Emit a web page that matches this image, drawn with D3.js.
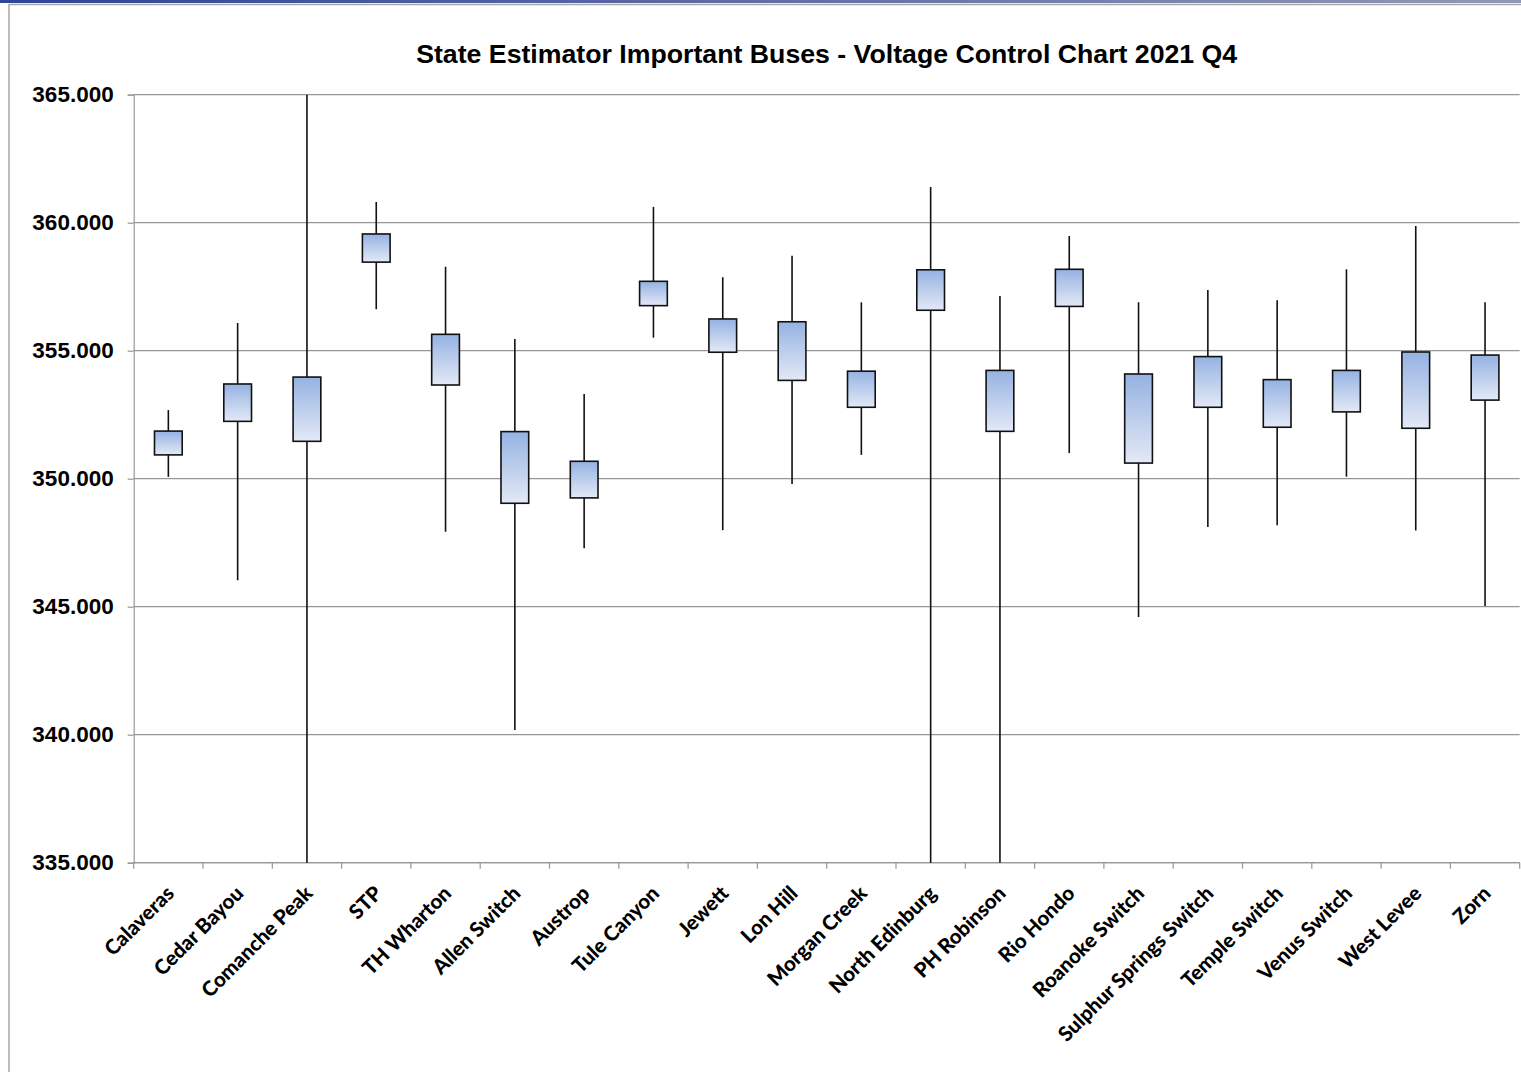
<!DOCTYPE html>
<html>
<head>
<meta charset="utf-8">
<script src="https://cdn.jsdelivr.net/npm/d3@7"></script>
<style>
  body { margin: 0; background: #fff; }
  svg { display: block; }
</style>
</head>
<body>
<div id="chart"></div>
<script>
// voltage stats per bus (kV): max, min, box top, box bottom
const buses = ["Calaveras", "Cedar Bayou", "Comanche Peak", "STP", "TH Wharton", "Allen Switch",
  "Austrop", "Tule Canyon", "Jewett", "Lon Hill", "Morgan Creek", "North Edinburg", "PH Robinson",
  "Rio Hondo", "Roanoke Switch", "Sulphur Springs Switch", "Temple Switch", "Venus Switch",
  "West Levee", "Zorn"];
const highs = [352.68, 356.08, 365.00, 360.81, 358.28, 355.46, 353.31, 360.62, 357.87, 358.71,
  356.89, 361.39, 357.14, 359.48, 356.89, 357.37, 356.97, 358.18, 359.87, 356.89];
const lows = [350.07, 346.03, 335.00, 356.62, 347.93, 340.18, 347.28, 355.51, 347.99, 349.79,
  350.93, 335.00, 335.00, 351.00, 344.60, 348.11, 348.18, 350.08, 347.98, 345.03];
const boxTops = [351.86, 353.70, 353.97, 359.56, 355.64, 351.84, 350.68, 357.71, 356.24, 356.13,
  354.20, 358.16, 354.23, 358.18, 354.09, 354.77, 353.87, 354.23, 354.95, 354.83];
const boxBottoms = [350.93, 352.24, 351.46, 358.46, 353.66, 349.04, 349.25, 356.76, 354.94, 353.84,
  352.79, 356.58, 351.85, 356.73, 350.61, 352.79, 352.01, 352.61, 351.97, 353.07];
const yTicks = [335, 340, 345, 350, 355, 360, 365];
const title = "State Estimator Important Buses - Voltage Control Chart 2021 Q4";

const W = 1521, H = 1072;
const margin = {top: 94.7, right: 1.3, bottom: 209.3, left: 133.7};

const rows = buses.map((name, i) => ({
  name, high: highs[i], low: lows[i], top: boxTops[i], bottom: boxBottoms[i]
}));

const svg = d3.select("#chart").append("svg")
  .attr("width", W)
  .attr("height", H);

// outer frame bits
const defs = svg.append("defs");
const bar = defs.append("linearGradient").attr("id", "topbar");
bar.append("stop").attr("offset", "0%").attr("stop-color", "#2f4596");
bar.append("stop").attr("offset", "100%").attr("stop-color", "#9298b4");
const boxGrad = defs.append("linearGradient").attr("id", "boxfill")
  .attr("x1", 0).attr("y1", 0).attr("x2", 0).attr("y2", 1);
boxGrad.append("stop").attr("offset", "0%").attr("stop-color", "#95b2e2");
boxGrad.append("stop").attr("offset", "100%").attr("stop-color", "#e3e9f6");

svg.append("rect").attr("x", 0).attr("y", 0).attr("width", W).attr("height", 3)
  .attr("fill", "url(#topbar)");
svg.append("line").attr("x1", 9).attr("x2", W).attr("y1", 4.5).attr("y2", 4.5)
  .attr("stroke", "#a6a6a6").attr("stroke-width", 1.5);
svg.append("line").attr("x1", 9).attr("x2", 9).attr("y1", 4).attr("y2", H)
  .attr("stroke", "#a6a6a6").attr("stroke-width", 1.5);

const x = d3.scaleBand()
  .domain(buses)
  .range([margin.left, W - margin.right]);

const y = d3.scaleLinear()
  .domain([335, 365])
  .range([H - margin.bottom, margin.top])
  .clamp(true);

// gridlines
svg.append("g")
  .selectAll("line")
  .data(yTicks)
  .join("line")
    .attr("x1", margin.left)
    .attr("x2", W - margin.right)
    .attr("y1", d => y(d))
    .attr("y2", d => y(d))
    .attr("stroke", "#979797")
    .attr("stroke-width", 1.2);

// y axis
const yAxis = svg.append("g")
  .attr("transform", `translate(${margin.left},0)`)
  .call(d3.axisLeft(y).tickValues(yTicks).tickFormat(d3.format(".3f")).tickSize(6).tickPadding(14));
yAxis.select(".domain").attr("stroke", "#979797").attr("stroke-width", 1.2);
yAxis.selectAll(".tick line").attr("stroke", "#979797").attr("stroke-width", 1.2);
yAxis.selectAll("text")
  .attr("fill", "#000")
  .style("font-family", "'Liberation Sans', Arial, sans-serif")
  .style("font-weight", "bold")
  .style("font-size", "22.5px");

// x axis: ticks sit between categories
const xAxisY = y(335);
const bounds = d3.range(buses.length + 1).map(i => margin.left + i * x.step());
const xAxis = svg.append("g");
xAxis.append("line")
  .attr("x1", margin.left).attr("x2", W - margin.right)
  .attr("y1", xAxisY).attr("y2", xAxisY)
  .attr("stroke", "#979797").attr("stroke-width", 1.2);
xAxis.selectAll(".tk")
  .data(bounds)
  .join("line")
    .attr("class", "tk")
    .attr("x1", d => d).attr("x2", d => d)
    .attr("y1", xAxisY).attr("y2", xAxisY + 6)
    .attr("stroke", "#979797").attr("stroke-width", 1.2);

xAxis.selectAll(".lbl")
  .data(buses)
  .join("text")
    .attr("class", "lbl")
    .attr("transform", d => `translate(${x(d) + x.bandwidth() / 2 + 7},${xAxisY + 32}) rotate(-45)`)
    .attr("text-anchor", "end")
    .style("font-family", "Lato, 'Open Sans', sans-serif")
    .style("font-weight", "900")
    .style("font-size", "20.5px")
    .attr("fill", "#000")
    .text(d => d);

// candles
const boxW = x.bandwidth() * 0.4;
const candle = svg.append("g")
  .selectAll("g")
  .data(rows)
  .join("g")
    .attr("transform", d => `translate(${x(d.name) + x.bandwidth() / 2},0)`);

candle.append("line")
  .attr("y1", d => y(d.high))
  .attr("y2", d => y(d.low))
  .attr("stroke", "#111")
  .attr("stroke-width", 1.6);

candle.append("rect")
  .attr("x", -boxW / 2)
  .attr("width", boxW)
  .attr("y", d => y(d.top))
  .attr("height", d => y(d.bottom) - y(d.top))
  .attr("fill", "url(#boxfill)")
  .attr("stroke", "#111")
  .attr("stroke-width", 1.6);

// title
svg.append("text")
  .attr("x", (margin.left + W - margin.right) / 2)
  .attr("y", 63.3)
  .attr("text-anchor", "middle")
  .style("font-family", "'Liberation Sans', Arial, sans-serif")
  .style("font-weight", "bold")
  .style("font-size", "26.7px")
  .text(title);
</script>
</body>
</html>
